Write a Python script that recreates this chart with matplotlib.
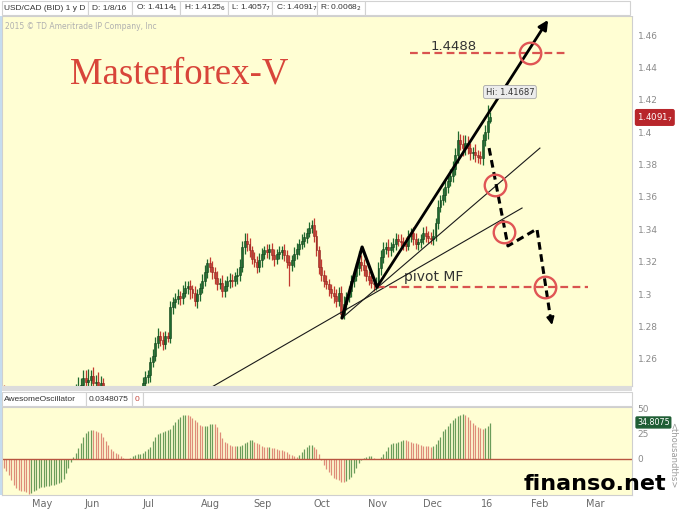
import numpy as np
import pandas as pd
import matplotlib
matplotlib.use("Agg")
import matplotlib.pyplot as plt
import matplotlib.transforms as mtransforms
from matplotlib.patches import Rectangle

# ---- daily USD/CAD (bid), 9 Apr 2015 .. 8 Jan 2016 ----
start_day = "2015-04-09"
end_day = "2016-01-08"

close_apr = [1.2390, 1.2375, 1.2360, 1.2330, 1.2250, 1.2210, 1.2230, 1.2290, 1.2260, 1.2240,
             1.2180, 1.2210, 1.2150, 1.2080, 1.2050, 1.2080]
close_may = [1.2130, 1.2110, 1.2080, 1.2090, 1.2120, 1.2060, 1.2030, 1.2010, 1.2000, 1.2050,
             1.2140, 1.2180, 1.2250, 1.2400, 1.2430, 1.2440, 1.2480, 1.2455, 1.2470, 1.2495, 1.2450]
close_jun = [1.2460, 1.2430, 1.2450, 1.2400, 1.2370, 1.2350, 1.2330, 1.2310, 1.2300, 1.2290,
             1.2300, 1.2310, 1.2290, 1.2270, 1.2290, 1.2320, 1.2350, 1.2360, 1.2350, 1.2450, 1.2490, 1.2500]
close_jul = [1.2580, 1.2620, 1.2700, 1.2740, 1.2720, 1.2690, 1.2740, 1.2730, 1.2920, 1.2950,
             1.2970, 1.2990, 1.2975, 1.3010, 1.3040, 1.3050, 1.3030, 1.3010, 1.2960, 1.3000,
             1.3040, 1.3080, 1.3140]
close_aug = [1.3190, 1.3170, 1.3140, 1.3100, 1.3060, 1.3070, 1.3020, 1.3050, 1.3080, 1.3090,
             1.3080, 1.3110, 1.3120, 1.3170, 1.3290, 1.3330, 1.3310, 1.3270, 1.3220, 1.3200, 1.3170]
close_sep = [1.3210, 1.3250, 1.3270, 1.3260, 1.3280, 1.3240, 1.3220, 1.3250, 1.3260, 1.3270,
             1.3240, 1.3200, 1.3180, 1.3210, 1.3250, 1.3280, 1.3310, 1.3330, 1.3350, 1.3380,
             1.3410, 1.3430]
close_oct = [1.3360, 1.3270, 1.3170, 1.3120, 1.3080, 1.3060, 1.3030, 1.3010, 1.2990, 1.2960,
             1.3010, 1.2880, 1.2940, 1.2980, 1.3020, 1.3080, 1.3110, 1.3160, 1.3200, 1.3180,
             1.3150, 1.3110]
close_nov = [1.3090, 1.3070, 1.3060, 1.3070, 1.3160, 1.3230, 1.3280, 1.3290, 1.3270, 1.3290,
             1.3310, 1.3340, 1.3330, 1.3320, 1.3310, 1.3300, 1.3360, 1.3380, 1.3340, 1.3310, 1.3320]
close_dec = [1.3340, 1.3375, 1.3360, 1.3350, 1.3340, 1.3360, 1.3440, 1.3540, 1.3580, 1.3610,
             1.3660, 1.3700, 1.3730, 1.3770, 1.3860, 1.3950, 1.3930, 1.3900, 1.3935, 1.3900,
             1.3870, 1.3880, 1.3860]
close_jan = [1.3850, 1.3840, 1.3950, 1.4000, 1.4070, 1.4091]
first_open = 1.2410
period_high = 1.41687

# upper / lower wick beyond the body, in pips
hi_pips = [30, 25, 20, 35, 20, 30, 40, 25, 20, 30, 25, 30, 20, 25, 30, 35,
           25, 20, 30, 25, 20, 30, 25, 20, 30, 35, 30, 25, 40, 45, 60, 40, 55, 50, 70, 40, 55,
           40, 60, 45, 30, 25, 30, 20, 25, 30, 20, 25, 30, 20, 25, 30, 35, 30, 25, 30, 40, 35, 30,
           30, 40, 35, 50, 30, 45, 30, 25, 40, 30, 35, 40, 30, 45, 40, 30, 35, 25, 40, 35, 30, 45, 40,
           30, 40, 35, 30, 45, 30, 50, 35, 30, 40, 35, 30, 40, 45, 40, 45, 50, 35, 30, 40, 35,
           45, 35, 30, 40, 30, 35, 40, 30, 35, 30, 40, 35, 45, 30, 40, 35, 30, 40, 35, 30, 35, 30,
           40, 35, 30, 45, 30, 40, 35, 30, 40, 45, 35, 40, 50, 35, 30, 40, 35, 30, 65, 40, 35, 30,
           35, 40, 30, 35, 40, 45, 40, 35, 50, 30, 40, 35, 30, 40, 35, 45, 35, 30, 35, 40, 30,
           30, 40, 45, 30, 35, 40, 30, 40, 35, 45, 40, 35, 40, 50, 45, 60, 40, 50, 45, 40, 35, 30, 45,
           30, 35, 40, 45, 99, 34]
lo_pips = [25, 30, 20, 30, 25, 20, 30, 25, 35, 20, 30, 25, 30, 20, 25, 30,
           20, 30, 25, 20, 30, 25, 35, 30, 25, 20, 30, 35, 25, 40, 35, 45, 30, 40, 35, 45, 50,
           40, 35, 30, 25, 30, 20, 25, 30, 25, 20, 30, 25, 30, 20, 25, 30, 35, 30, 25, 30, 35, 40,
           40, 30, 35, 30, 40, 35, 30, 25, 30, 40, 35, 30, 40, 35, 30, 40, 60, 35, 30, 45, 40, 35, 30,
           40, 35, 45, 40, 35, 30, 40, 35, 30, 40, 35, 30, 45, 40, 35, 40, 45, 40, 35, 30, 40,
           35, 40, 30, 35, 40, 30, 45, 35, 30, 40, 35, 40, 130, 35, 40, 30, 35, 30, 40, 35, 30, 35,
           40, 35, 45, 40, 35, 30, 40, 35, 45, 40, 30, 30, 35, 40, 30, 40, 35, 30, 40, 35, 40, 30,
           35, 30, 40, 35, 30, 40, 35, 30, 40, 35, 30, 40, 35, 30, 40, 35, 30, 40, 35, 30, 40,
           35, 30, 40, 35, 30, 35, 30, 40, 35, 30, 40, 35, 30, 40, 35, 50, 40, 45, 40, 35, 40, 35, 45,
           40, 35, 40, 35, 40, 13]

# Awesome Oscillator, thousandths
ao_apr = [-9, -12, -16, -21, -26, -29, -30.5, -31.5, -32, -33, -35, -33.5, -32, -30.5, -29, -28]
ao_may = [-27.5, -27, -26.5, -26, -25.5, -25, -24, -22.5, -20, -14, -9, -3.5, 2, 6, 11, 16, 22,
          25.5, 27.5, 28.6, 28]
ao_jun = [27.5, 26.5, 25, 22, 18, 13.5, 10, 7.5, 6, 4.5, 3, 1, 0.3, 0.2, 1, 3.3, 4, 4.5, 5, 6, 8, 9.5]
ao_jul = [12, 18, 22, 24, 25, 26.5, 27.3, 28, 29, 33, 36, 39, 41.6, 43, 43.5, 43, 42, 40.5, 38, 36,
          33.5, 32, 32]
ao_aug = [32.5, 34, 34.5, 34, 31, 26, 20.5, 17, 15.5, 14, 13, 12.4, 12.4, 12.8, 13.8, 15.5, 17,
          18.5, 18.5, 17, 15.6]
ao_sep = [14.3, 13, 12, 11.4, 11.4, 11, 10.5, 9.8, 9.2, 8.8, 8, 6.7, 5, 3.5, 2.5, 2, 3.5, 6.5, 10,
          12, 13.5, 14]
ao_oct = [12, 9.5, 5, -1.5, -6, -10, -13, -16, -18.5, -19.8, -21, -22.3, -22.8, -22, -20, -17.5,
          -13.5, -8.5, -4.5, -1.5, 0.5, 1.8]
ao_nov = [2.4, 2.4, 1, -0.3, -0.6, 1.5, 4.5, 8, 11.5, 14.3, 15.6, 16, 17, 18, 19, 18.5, 17.8, 17,
          16, 15.6, 15]
ao_dec = [14, 13, 12.8, 12.2, 11.6, 12.4, 15, 18.5, 22, 27, 29.5, 32.5, 35, 38, 40, 42, 43, 44, 43,
          41, 38, 35.5, 33.5]
ao_jan = [31.5, 30, 29.5, 30.5, 32, 34.8]
ao_last = "34.8075"

# month labels and where they sit, in bar positions
month_labels = ["May", "Jun", "Jul", "Aug", "Sep", "Oct", "Nov", "Dec", "16", "Feb", "Mar"]
month_pos = [15.3, 35.5, 58.1, 83.1, 104.4, 128.2, 150.8, 172.6, 194.8, 216.1, 238.3]
price_ticks = [1.26, 1.28, 1.30, 1.32, 1.34, 1.36, 1.38, 1.40, 1.42, 1.44, 1.46]
ao_ticks = [0, 25, 50]

# drawn analysis, (bar index, price)
trend_a = [(83.1, 1.2421), (208.9, 1.3532)]
trend_b = [(136.3, 1.2853), (216.1, 1.3902)]
zigzag = [(136.3, 1.2853), (144.4, 1.3291), (150.4, 1.3044)]
up_arrow = [(150.4, 1.3044), (219.4, 1.4693)]
target_level = 1.4488
target_span = (163.7, 226.2)
pivot_level = 1.3044
pivot_span = (150.4, 235.5)
down_path = [(195.6, 1.3902), (203.2, 1.3298), (214.9, 1.3403), (221.0, 1.2810)]
circles = [(212.1, 1.4488), (198.0, 1.3674), (201.6, 1.3384), (218.1, 1.3044)]

# ---------------------------------------------------------------------------
dates = pd.bdate_range(start_day, end_day)
closes = np.array(close_apr + close_may + close_jun + close_jul + close_aug + close_sep
                  + close_oct + close_nov + close_dec + close_jan)
ao = np.array(ao_apr + ao_may + ao_jun + ao_jul + ao_aug + ao_sep + ao_oct + ao_nov + ao_dec + ao_jan)
assert len(dates) == len(closes) == len(ao) == len(hi_pips) == len(lo_pips)

idx = np.arange(len(closes))
opens = np.concatenate([[first_open], closes[:-1]])
highs = np.maximum(opens, closes) + np.array(hi_pips) * 1e-4
lows = np.minimum(opens, closes) - np.array(lo_pips) * 1e-4

W, H = 680, 511
BG = "#fffed3"
GREEN, RED = "#1f6a2e", "#c23a30"


def fig_rect(x0, y0, x1, y1):
    return [x0 / W, 1 - y1 / H, (x1 - x0) / W, (y1 - y0) / H]


def box(x0, y0, x1, y1, fc, ec="none", lw=0.8):
    fig.add_artist(Rectangle((x0 / W, 1 - y1 / H), (x1 - x0) / W, (y1 - y0) / H,
                             transform=fig.transFigure, fc=fc, ec=ec, lw=lw))


def ftext(x, y, s, **kw):
    fig.text(x / W, 1 - y / H, s, **kw)


fig = plt.figure(figsize=(W / 100, H / 100), dpi=100, facecolor="white")

# header rows and separators
box(0, 0, 680, 16, "white")
for x0, x1 in [(2, 88), (88, 132), (132, 180), (180, 228), (228, 272), (272, 317), (317, 365), (365, 630)]:
    box(x0, 1, x1, 15, "white", "#d2d2d2")
box(0, 386, 632, 391, "#dcdcdc")
for x0, x1 in [(2, 86), (86, 132), (132, 143), (143, 632)]:
    box(x0, 392, x1, 406, "white", "#d2d2d2")
box(0, 16, 2, 495, "#c5dcef")

hdr = dict(fontsize=6.0, color="#333333", va="center", family="Liberation Sans")
ftext(4, 8, "USD/CAD (BID) 1 y D", **hdr)
ftext(92, 8, "D: 1/8/16", **hdr)
ftext(136, 8, "O: 1.4114$_1$", **hdr)
ftext(184, 8, "H: 1.4125$_6$", **hdr)
ftext(231, 8, "L: 1.4057$_7$", **hdr)
ftext(276, 8, "C: 1.4091$_7$", **hdr)
ftext(320, 8, "R: 0.0068$_2$", **hdr)
ftext(4, 399, "AwesomeOscillator", **hdr)
ftext(89, 399, "0.0348075", **hdr)
ftext(135, 399, "0", **{**hdr, "color": "#c4473c"})

# ---- price panel ----
ax = fig.add_axes(fig_rect(2, 16, 632, 386), facecolor=BG)
ax.set_xlim((2 - 4) / 2.48, (632 - 4) / 2.48)
ax.set_ylim(1.46 - (386 - 35) / 1620, 1.46 + (35 - 16) / 1620)

up = closes >= opens
cols = np.where(up, GREEN, RED)
ax.vlines(idx, lows, highs, colors=cols, lw=0.9, zorder=2)
body = np.maximum(np.abs(closes - opens), 0.0004)
ax.bar(idx, body, bottom=np.minimum(opens, closes), width=0.78, color=cols,
       edgecolor=np.where(up, "#10401b", "#8c2620"), lw=0.4, zorder=3)

ax.yaxis.tick_right()
ax.set_yticks(price_ticks)
ax.set_yticklabels([f"{t:g}" for t in price_ticks])
ax.tick_params(axis="y", length=0, pad=4, labelsize=6.5, labelcolor="#8a8a8a")
ax.set_xticks([])
for s in ax.spines.values():
    s.set_color("#cfcfcf")
    s.set_linewidth(0.8)

ax.text(68 / 630, 1 - (74 - 16) / 370, "Masterforex-V", transform=ax.transAxes,
        fontsize=26.5, color="#d8453a", family="Liberation Serif", va="center", ha="left")
ax.text(0.005, 1 - (26 - 16) / 370, "2015 \u00a9 TD Ameritrade IP Company, Inc", transform=ax.transAxes,
        fontsize=5.5, color="#b0b0b0", va="center")

# trend lines and the drawn scenario
tx, ty = zip(*trend_a)
ax.plot(tx, ty, color="#1a1a1a", lw=0.8, zorder=4)
tx, ty = zip(*trend_b)
ax.plot(tx, ty, color="#1a1a1a", lw=0.8, zorder=4)
tx, ty = zip(*zigzag)
ax.plot(tx, ty, color="black", lw=2.3, solid_capstyle="round", zorder=5)
ax.annotate("", xy=up_arrow[1], xytext=up_arrow[0],
            arrowprops=dict(arrowstyle="-|>", color="black", lw=2.0, mutation_scale=14,
                            shrinkA=0, shrinkB=0), zorder=5)

red_dash = dict(color="#d9534f", lw=1.6, ls=(0, (3.5, 2)), zorder=4)
ax.plot(target_span, [target_level, target_level], **red_dash)
ax.plot(pivot_span, [pivot_level, pivot_level], **red_dash)
ax.text(171.8, 1.4530, f"{target_level:.4f}", fontsize=9.5, color="#333333", va="center")
ax.text(161.3, 1.3106, "pivot MF", fontsize=10, color="#333333", va="center")

dx, dy = zip(*down_path)
ax.plot(dx[:-1] + (dx[-1] - 0.6,), dy[:-1] + (dy[-1] + 0.004,), color="black", lw=2.2,
        ls=(0, (2.5, 1.5)), zorder=5)
ax.annotate("", xy=down_path[-1], xytext=(dx[-1] - 0.8, dy[-1] + 0.006),
            arrowprops=dict(arrowstyle="-|>", color="black", lw=1.5, mutation_scale=11,
                            shrinkA=0, shrinkB=0), zorder=5)
cx, cy = zip(*circles)
ax.plot(cx, cy, "o", ms=15.5, mfc="none", mec="#e05555", mew=1.7, zorder=6)

ax.text(204, 1.4248, f"Hi: {period_high:.5f}", fontsize=6, color="#333333", ha="center", va="center",
        bbox=dict(boxstyle="round,pad=0.25", fc="#ececec", ec="#a8a8a8", lw=0.6), zorder=7)

ytr = mtransforms.blended_transform_factory(ax.transAxes, ax.transData)
ax.text(1.008, closes[-1], f"{closes[-1]:.4f}$_7$", transform=ytr, fontsize=6.2, color="white",
        va="center", ha="left", clip_on=False,
        bbox=dict(boxstyle="round,pad=0.18", fc="#b8262b", ec="#b8262b"))

# ---- Awesome Oscillator panel ----
ax2 = fig.add_axes(fig_rect(2, 407, 632, 495), facecolor=BG)
ax2.set_xlim(ax.get_xlim())
ax2.set_ylim(-35.5, 51)
rising = np.diff(ao, prepend=ao[0] + 1) >= 0
ax2.vlines(idx, 0, ao, colors=np.where(rising, "#6a9c5a", "#de8c78"), lw=0.9)
ax2.axhline(0, color="#b8553f", lw=1.0)

ax2.yaxis.tick_right()
ax2.set_yticks(ao_ticks)
ax2.tick_params(axis="y", length=0, pad=4, labelsize=6.5, labelcolor="#8a8a8a")
ax2.set_xticks(month_pos)
ax2.set_xticklabels(month_labels)
ax2.tick_params(axis="x", length=0, pad=3, labelsize=7, labelcolor="#6a6a6a")
for s in ax2.spines.values():
    s.set_color("#cfcfcf")
    s.set_linewidth(0.8)

ytr2 = mtransforms.blended_transform_factory(ax2.transAxes, ax2.transData)
ax2.text(1.008, ao[-1] + 1.0, ao_last, transform=ytr2, fontsize=5.8,
         color="white", va="center", ha="left", clip_on=False,
         bbox=dict(boxstyle="round,pad=0.12", fc="#1f5e35", ec="#1f5e35"))
ftext(673, 455, "<thousandths>", fontsize=6, color="#9a9a9a", rotation=270, ha="center", va="center")

ftext(595, 484, "finanso.net", fontsize=16, fontweight="bold", color="black", ha="center", va="center",
      family="DejaVu Sans")

fig.savefig("out.png", dpi=100, facecolor="white")
